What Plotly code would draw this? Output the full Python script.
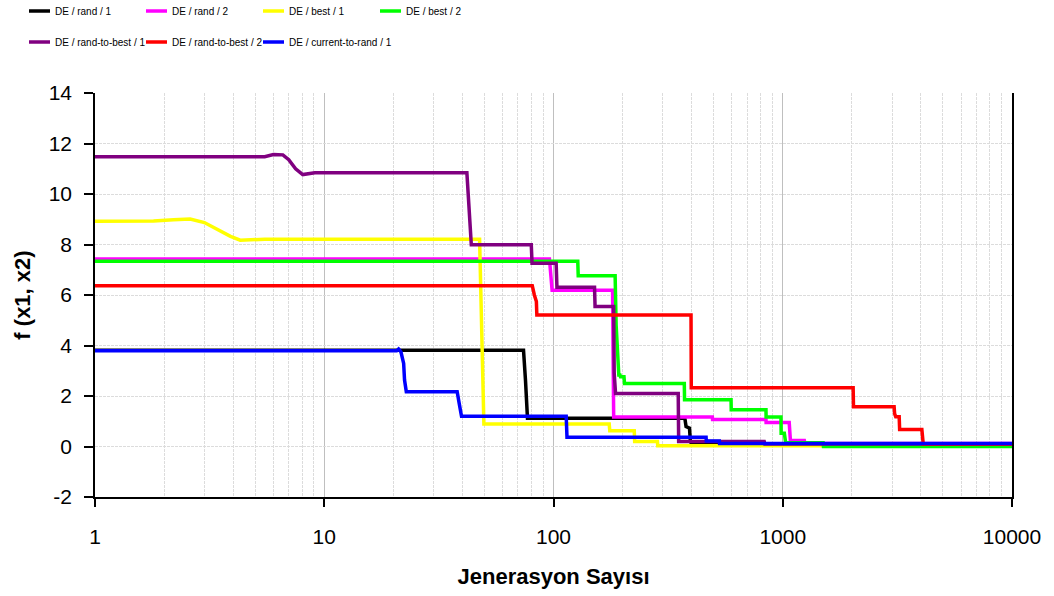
import plotly.graph_objects as go

# Generation counts (x) and best objective value f(x1, x2) (y) per DE strategy
rand1_x = [1, 74, 75.5, 77, 374, 378.6, 392, 395, 400, 10000]
rand1_y = [3.81, 3.81, 2.6, 1.12, 1.12, 0.79, 0.73, 0.25, 0.08, 0.08]

rand2_x = [1, 96, 98.6, 181, 183, 493, 494, 845, 846, 1067, 1080, 1242, 1250, 10000]
rand2_y = [7.43, 7.43, 6.19, 6.19, 1.17, 1.17, 1.07, 1.07, 0.95, 0.95, 0.24, 0.24, 0.12, 0.12]

best1_x = [1, 1.8, 2.2, 2.6, 3.0, 3.4, 3.9, 4.3, 4.9, 5.5, 47.6, 48.5, 49.7,
           175, 176, 225, 226, 284, 285, 1500]
best1_y = [8.92, 8.93, 8.98, 9.01, 8.87, 8.62, 8.32, 8.17, 8.2, 8.21, 8.21, 4.5, 0.89,
           0.89, 0.62, 0.62, 0.2, 0.2, 0.03, 0.03]

best2_x = [1, 127.6, 128.2, 185.7, 187.6, 192.7, 195, 196, 203, 204, 372, 373,
           595, 596, 845, 846, 982, 984, 1016, 1030, 1500, 1505, 10000]
best2_y = [7.34, 7.34, 6.76, 6.76, 4.8, 2.83, 2.83, 2.76, 2.76, 2.5, 2.5, 1.85,
           1.85, 1.46, 1.46, 1.17, 1.17, 0.52, 0.52, 0.15, 0.15, 0.0, 0.0]

rtb1_x = [1, 5.5, 6.0, 6.6, 7.0, 7.5, 8.06, 8.6, 9.1, 41.9, 42.3, 43.1, 43.8,
          80.0, 80.6, 102.7, 103.5, 151, 151.8, 183, 184, 186.5, 350, 351.5,
          830, 835, 10000]
rtb1_y = [11.48, 11.48, 11.56, 11.55, 11.36, 11.0, 10.77, 10.8, 10.84, 10.84, 10.3, 8.85, 7.99,
          7.99, 7.26, 7.26, 6.31, 6.31, 5.54, 5.54, 2.9, 2.1, 2.1, 0.2,
          0.2, 0.1, 0.1]

rtb2_x = [1, 80.8, 82.5, 84.2, 84.6, 398, 399, 2028, 2035, 3061, 3075, 3110,
          3220, 3235, 4044, 4080, 4100, 10000]
rtb2_y = [6.37, 6.37, 6.0, 5.74, 5.21, 5.21, 2.33, 2.33, 1.57, 1.57, 1.3, 1.18,
          1.18, 0.67, 0.67, 0.28, 0.1, 0.1]

ctr1_x = [1, 20.7, 21.1, 21.6, 22.2, 22.4, 22.8, 38.0, 38.8, 39.7, 113.6, 114.5,
          463, 464, 529, 530, 10000]
ctr1_y = [3.79, 3.79, 3.86, 3.75, 3.29, 2.63, 2.17, 2.17, 1.7, 1.2, 1.2, 0.37,
          0.37, 0.22, 0.22, 0.12, 0.12]

x_ticks = [1, 10, 100, 1000, 10000]
x_labels = ["1", "10", "100", "1000", "10000"]
y_ticks = [-2, 0, 2, 4, 6, 8, 10, 12, 14]
y_labels = ["-2", "0", "2", "4", "6", "8", "10", "12", "14"]

series = [
    ("DE / rand / 1", rand1_x, rand1_y, "#000000"),
    ("DE / rand / 2", rand2_x, rand2_y, "#FF00FF"),
    ("DE / best / 1", best1_x, best1_y, "#FFFF00"),
    ("DE / best / 2", best2_x, best2_y, "#00FF00"),
    ("DE / rand-to-best / 1", rtb1_x, rtb1_y, "#800080"),
    ("DE / rand-to-best / 2", rtb2_x, rtb2_y, "#FF0000"),
    ("DE / current-to-rand / 1", ctr1_x, ctr1_y, "#0000FF"),
]

W, H = 1054, 596
M_L, M_R, M_T, M_B = 95, 42, 93, 99
plot_w = W - M_L - M_R
plot_h = H - M_T - M_B

fig = go.Figure()
for name, xs, ys, color in series:
    fig.add_trace(go.Scatter(x=xs, y=ys, mode="lines", name=name,
                             line=dict(color=color, width=3.5), showlegend=False))

axis_font = dict(family="Liberation Sans, Arial, sans-serif", size=21, color="#000000")
title_font = dict(family="Liberation Sans, Arial, sans-serif", size=22, color="#000000")
legend_font = dict(family="Liberation Sans, Arial, sans-serif", size=10, color="#000000")

# Key above the plot: 4 entries per row, short coloured swatch followed by the name
col_step, row_y = 117, [11, 42]
key_shapes, key_notes = [], []
for i, (name, _, _, color) in enumerate(series):
    row, col = divmod(i, 4)
    x0 = 29 + col * col_step
    yp = (plot_h - (row_y[row] - M_T)) / plot_h
    key_shapes.append(dict(type="line", xref="paper", yref="paper",
                           x0=(x0 - M_L) / plot_w, x1=(x0 + 21 - M_L) / plot_w,
                           y0=yp, y1=yp, line=dict(color=color, width=3.5)))
    key_notes.append(dict(text=name, xref="paper", yref="paper",
                          x=(x0 + 24 - M_L) / plot_w, y=yp, xanchor="left",
                          yanchor="middle", showarrow=False, font=legend_font))

fig.update_layout(
    width=W, height=H,
    margin=dict(l=M_L, r=M_R, t=M_T, b=M_B),
    paper_bgcolor="#FFFFFF", plot_bgcolor="#FFFFFF",
    font=axis_font,
    shapes=key_shapes, annotations=key_notes,
    xaxis=dict(
        type="log", range=[0, 4],
        tickvals=x_ticks, ticktext=x_labels,
        ticks="outside", ticklen=8, tickcolor="#000000", tickwidth=1.5,
        showline=True, linecolor="#000000", linewidth=1.5,
        showgrid=True, gridcolor="#BFBFBF", gridwidth=1.2,
        minor=dict(dtick="D1", showgrid=True, gridcolor="#DCDCDC", griddash="3px,1px",
                   gridwidth=1, ticks=""),
        zeroline=False, tickfont=axis_font, ticklabelstandoff=12,
        title=dict(text="<b>Jenerasyon Sayısı</b>", font=title_font, standoff=22),
    ),
    yaxis=dict(
        range=[-2, 14], tickvals=y_ticks, ticktext=y_labels,
        ticks="outside", ticklen=9, tickcolor="#000000", tickwidth=1.5,
        showline=True, linecolor="#000000", linewidth=1.5, mirror=True,
        showgrid=True, gridcolor="#DCDCDC", griddash="3px,1px", gridwidth=1,
        zeroline=False, tickfont=axis_font, ticklabelstandoff=8,
        title=dict(text="<b>f (x1, x2)</b>", font=title_font, standoff=12),
    ),
)

fig.write_html("out.html")
